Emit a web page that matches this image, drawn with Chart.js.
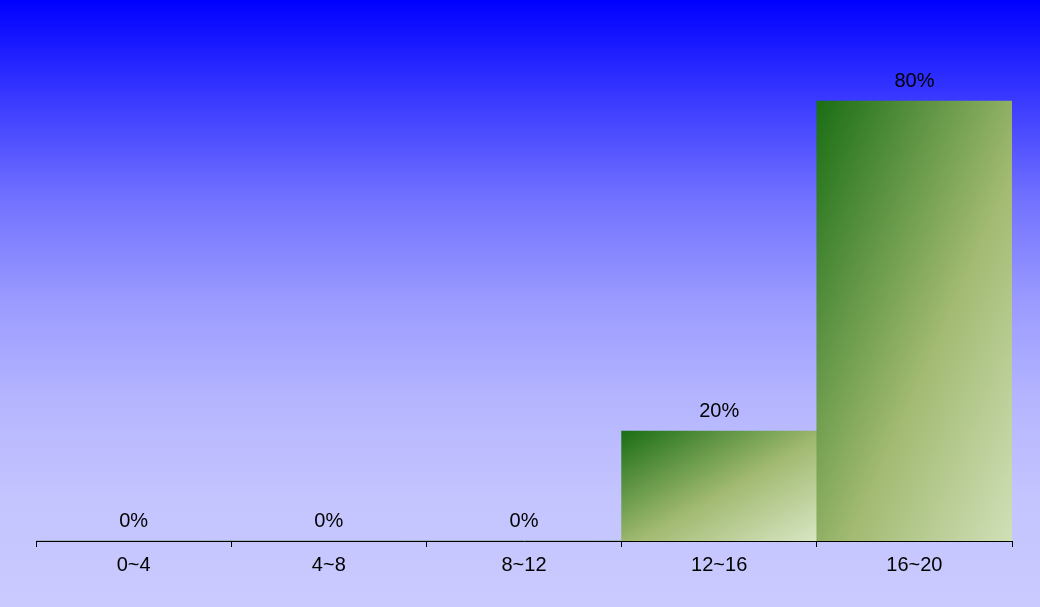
<!DOCTYPE html>
<html>
<head>
<meta charset="utf-8">
<script src="https://cdn.jsdelivr.net/npm/chart.js@4.4.1/dist/chart.umd.min.js"></script>
<style>
  html, body { margin: 0; padding: 0; background: #c8c8ff; }
  #wrap { width: 1040px; height: 607px; position: relative; }
</style>
</head>
<body>
<div id="wrap"><canvas id="chart"></canvas></div>
<script>
const categories = ["0~4", "4~8", "8~12", "12~16", "16~20"];
const shares = [0, 0, 0, 20, 80];
const labelTexts = ["0%", "0%", "0%", "20%", "80%"];

const FONT = "'Liberation Sans', Arial, sans-serif";

// background: blue on top fading to lavender
const backgroundPlugin = {
  id: "bg",
  beforeDraw(chart) {
    const ctx = chart.ctx;
    const g = ctx.createLinearGradient(0, 0, 0, chart.height);
    g.addColorStop(0, "#0000ff");
    g.addColorStop(0.165, "#3a3aff");
    g.addColorStop(0.33, "#7272ff");
    g.addColorStop(0.494, "#9a9aff");
    g.addColorStop(0.66, "#b5b5ff");
    g.addColorStop(0.82, "#c4c4ff");
    g.addColorStop(1, "#cacaff");
    ctx.save();
    ctx.fillStyle = g;
    ctx.fillRect(0, 0, chart.width, chart.height);
    ctx.restore();
  },
};

// percent text above every bar
const valueLabels = {
  id: "valueLabels",
  afterDatasetsDraw(chart) {
    const ctx = chart.ctx;
    const meta = chart.getDatasetMeta(0);
    ctx.save();
    ctx.font = "20px " + FONT;
    ctx.fillStyle = "#000";
    ctx.textAlign = "center";
    ctx.textBaseline = "middle";
    meta.data.forEach((bar, i) => {
      ctx.fillText(labelTexts[i], bar.x, bar.y - 20);
    });
    ctx.restore();
  },
};

// gradient stretched over each bar like an svg bounding-box gradient
function barGradient(context) {
  const chart = context.chart;
  if (!chart.chartArea) return "#a0b870";
  const xs = chart.scales.x;
  const ys = chart.scales.y;
  const i = context.dataIndex;
  const v = shares[i];
  const w = xs.getPixelForValue(1) - xs.getPixelForValue(0);
  const left = xs.getPixelForValue(i) - w / 2;
  const top = ys.getPixelForValue(v);
  const h = Math.max(ys.getPixelForValue(0) - top, 1);
  const k = Math.sqrt((2 * w * h) / (w * w + h * h));
  const g = chart.ctx.createLinearGradient(left, top, left + k * h, top + k * w);
  g.addColorStop(0, "#1a6e14");
  g.addColorStop(0.5, "#a2ba72");
  g.addColorStop(1, "#e2eed2");
  return g;
}

new Chart(document.getElementById("chart"), {
  type: "bar",
  data: {
    labels: categories,
    datasets: [
      {
        data: shares,
        backgroundColor: barGradient,
        borderWidth: 0,
        categoryPercentage: 1,
        barPercentage: 1,
      },
    ],
  },
  options: {
    responsive: true,
    maintainAspectRatio: false,
    animation: false,
    layout: { padding: { left: 36, right: 28, top: 46, bottom: 24 } },
    plugins: { legend: { display: false }, tooltip: { enabled: false } },
    scales: {
      x: {
        grid: {
          offset: true,
          drawOnChartArea: false,
          drawTicks: true,
          tickLength: 6,
          color: "#000",
        },
        border: { display: true, color: "#000", width: 1 },
        ticks: {
          color: "#000",
          padding: 6,
          font: { size: 20, family: FONT },
        },
      },
      y: {
        display: false,
        min: 0,
        max: 90,
      },
    },
  },
  plugins: [backgroundPlugin, valueLabels],
});
</script>
</body>
</html>
